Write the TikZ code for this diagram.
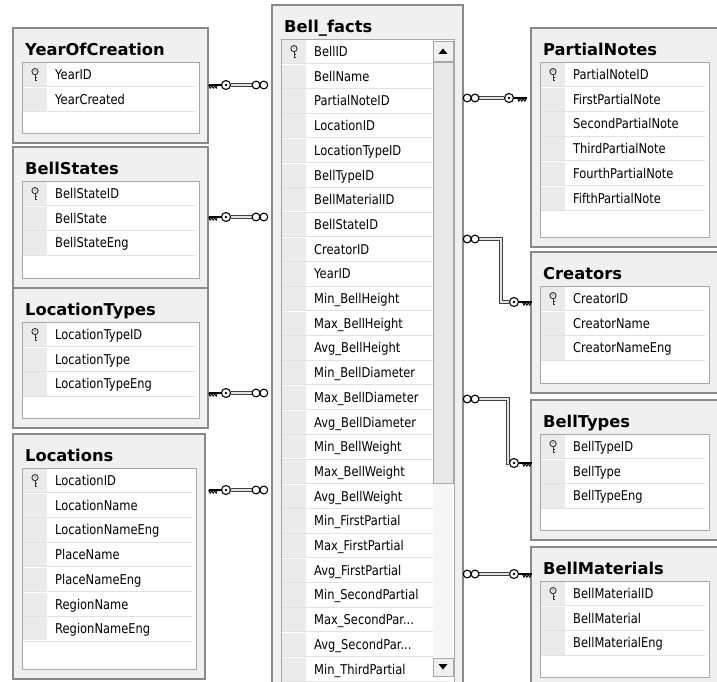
\documentclass[tikz,border=0pt]{standalone}
\usepackage{fontspec}
\setmainfont{DejaVu Sans}
\newfontfamily\rowfont{DejaVu Sans}[FakeStretch=0.85]
\definecolor{framegray}{HTML}{8A8A8A}
\definecolor{tablebg}{HTML}{F0F0F0}
\definecolor{panelgray}{HTML}{A8A8A8}
\definecolor{keybg}{HTML}{EBEBEB}
\definecolor{rowgray}{HTML}{E2E2E2}
\definecolor{thumbgray}{HTML}{E8E8E8}
\definecolor{trackgray}{HTML}{F6F6F6}

\tikzset{
  tableframe/.style={draw=framegray, line width=1.4pt, fill=tablebg},
  tablepanel/.style={draw=panelgray, line width=0.9pt, fill=white},
  keycol/.style={fill=keybg},
  rowline/.style={draw=rowgray, line width=0.8pt},
  tabletitle/.style={anchor=base west, inner sep=0pt, font=\bfseries\fontsize{16.3}{18}\selectfont},
  fieldtext/.style={anchor=base west, inner sep=0pt, font=\rowfont\fontsize{13.5}{15}\selectfont},
  relline/.style={draw=black!75, line width=0.7pt, double=gray!20, double distance=1.8pt},
  scrollpart/.style={draw=panelgray, line width=0.8pt, fill=tablebg},
  % key end of a relation, ring at the line
  pkend/.pic={
    \draw[line width=1.1pt] (5,0) circle (4.5);
    \fill (5,0) circle (1.4);
    \draw[line width=1.1pt] (9.5,0) -- (22.5,0);
    \draw[line width=0.9pt] (13.5,0) -- (14.8,3.2) -- (16.3,0.8) -- (17.8,3.2) -- (19.3,0.8) -- (20.8,3.2) -- (22.5,0);
  },
  % many end of a relation
  fkend/.pic={
    \draw[line width=1.1pt] (4,0) circle (3.9);
    \draw[line width=1.1pt] (11.8,0) circle (3.9);
  },
  % small key in the key column
  pkicon/.pic={
    \draw[line width=0.9pt, black!80] (0,-2.6) circle (3.1);
    \fill[black!80] (0,-3.2) circle (0.7);
    \draw[line width=0.9pt, black!80] (0,0.5) -- (0,6.5);
    \draw[line width=0.8pt, black!80] (0,3.6) -- (2.2,3.6) (0,6.2) -- (1.9,6.2);
  }
}

% name, left, top, width, height, title, fields (first one is the key)
\newcommand{\dbtable}[7]{%
  \draw[tableframe] (#2,#3) rectangle ++(#4,#5);
  \node[tabletitle] (#1-title) at (#2+12,#3+27.5) {#6};
  \draw[tablepanel] (#2+9,#3+34) rectangle (#2+#4-9,#3+#5-10);
  \foreach \fld [count=\i from 0] in {#7} {
    \fill[keycol] (#2+10,#3+35+\i*24.7) rectangle ++(24,23.2);
    \draw[rowline] (#2+10,#3+58.7+\i*24.7) -- (#2+#4-13,#3+58.7+\i*24.7);
    \node[fieldtext] (#1-f\i) at (#2+42,#3+51.5+\i*24.7) {\fld};
  }
  \pic at (#2+22,#3+46.2) {pkicon};
}

\begin{document}
\begin{tikzpicture}[x=1pt, y=-1pt]
  \useasboundingbox (0,0) rectangle (717,682);
  \clip (0,0) rectangle (717,682);

  % tables on the left
  \dbtable{yoc}{13}{28}{195}{115}{YearOfCreation}{YearID,YearCreated}
  \dbtable{bs}{13}{147}{195}{141}{BellStates}{BellStateID,BellState,BellStateEng}
  \dbtable{lt}{13}{288}{195}{140}{LocationTypes}{LocationTypeID,LocationType,LocationTypeEng}
  \dbtable{loc}{13}{434}{192}{245}{Locations}{LocationID,LocationName,LocationNameEng,PlaceName,PlaceNameEng,RegionName,RegionNameEng}

  % fact table
  \dbtable{bf}{272}{5}{191}{690}{Bell\_facts}{BellID,BellName,PartialNoteID,LocationID,LocationTypeID,BellTypeID,BellMaterialID,BellStateID,CreatorID,YearID,Min\_BellHeight,Max\_BellHeight,Avg\_BellHeight,Min\_BellDiameter,Max\_BellDiameter,Avg\_BellDiameter,Min\_BellWeight,Max\_BellWeight,Avg\_BellWeight,Min\_FirstPartial,Max\_FirstPartial,Avg\_FirstPartial,Min\_SecondPartial,Max\_SecondPar.{}.{}.,Avg\_SecondPar.{}.{}.,Min\_ThirdPartial}
  % scroll bar
  \draw[scrollpart] (433,41) rectangle (453,61);
  \fill (438.5,54) -- (447.5,54) -- (443,48.5) -- cycle;
  \draw[scrollpart, fill=thumbgray] (433,62) rectangle (453,483);
  \fill[trackgray] (433,484) rectangle (453,657);
  \draw[scrollpart] (433,658) rectangle (453,676);
  \fill (438.5,664) -- (447.5,664) -- (443,669.5) -- cycle;

  % tables on the right
  \dbtable{pn}{531}{28}{187}{219}{PartialNotes}{PartialNoteID,FirstPartialNote,SecondPartialNote,ThirdPartialNote,FourthPartialNote,FifthPartialNote}
  \dbtable{cr}{531}{252}{187}{141}{Creators}{CreatorID,CreatorName,CreatorNameEng}
  \dbtable{bt}{531}{400}{187}{140}{BellTypes}{BellTypeID,BellType,BellTypeEng}
  \dbtable{bm}{531}{547}{187}{140}{BellMaterials}{BellMaterialID,BellMaterial,BellMaterialEng}

  % relation ends
  \coordinate (yoc-pk) at (231,85);
  \coordinate (bs-pk) at (231,217);
  \coordinate (lt-pk) at (231,393);
  \coordinate (loc-pk) at (231,490);
  \coordinate (bf-fk1) at (252,85);
  \coordinate (bf-fk2) at (252,217);
  \coordinate (bf-fk3) at (252,393);
  \coordinate (bf-fk4) at (252,490);
  \coordinate (bf-fk5) at (479,98);
  \coordinate (bf-fk6) at (479,239);
  \coordinate (bf-fk7) at (479,399);
  \coordinate (bf-fk8) at (479,574);
  \coordinate (pn-pk) at (504,98);
  \coordinate (cr-pk) at (509,302);
  \coordinate (bt-pk) at (509,463);
  \coordinate (bm-pk) at (509,574);

  % relations
  \draw[relline] (yoc-pk) -- (bf-fk1);
  \draw[relline] (bs-pk) -- (bf-fk2);
  \draw[relline] (lt-pk) -- (bf-fk3);
  \draw[relline] (loc-pk) -- (bf-fk4);
  \draw[relline] (bf-fk5) -- (pn-pk);
  \draw[relline] (bf-fk6) -- ++(22,0) |- (cr-pk);
  \draw[relline] (bf-fk7) -- ++(29,0) |- (bt-pk);
  \draw[relline] (bf-fk8) -- (bm-pk);

  \foreach \k in {yoc,bs,lt,loc} { \pic[xscale=-1] at (\k-pk) {pkend}; }
  \foreach \k in {pn,cr,bt,bm} { \pic at (\k-pk) {pkend}; }
  \foreach \k in {1,2,3,4} { \pic at (bf-fk\k) {fkend}; }
  \foreach \k in {5,6,7,8} { \pic[xscale=-1] at (bf-fk\k) {fkend}; }
\end{tikzpicture}
\end{document}
